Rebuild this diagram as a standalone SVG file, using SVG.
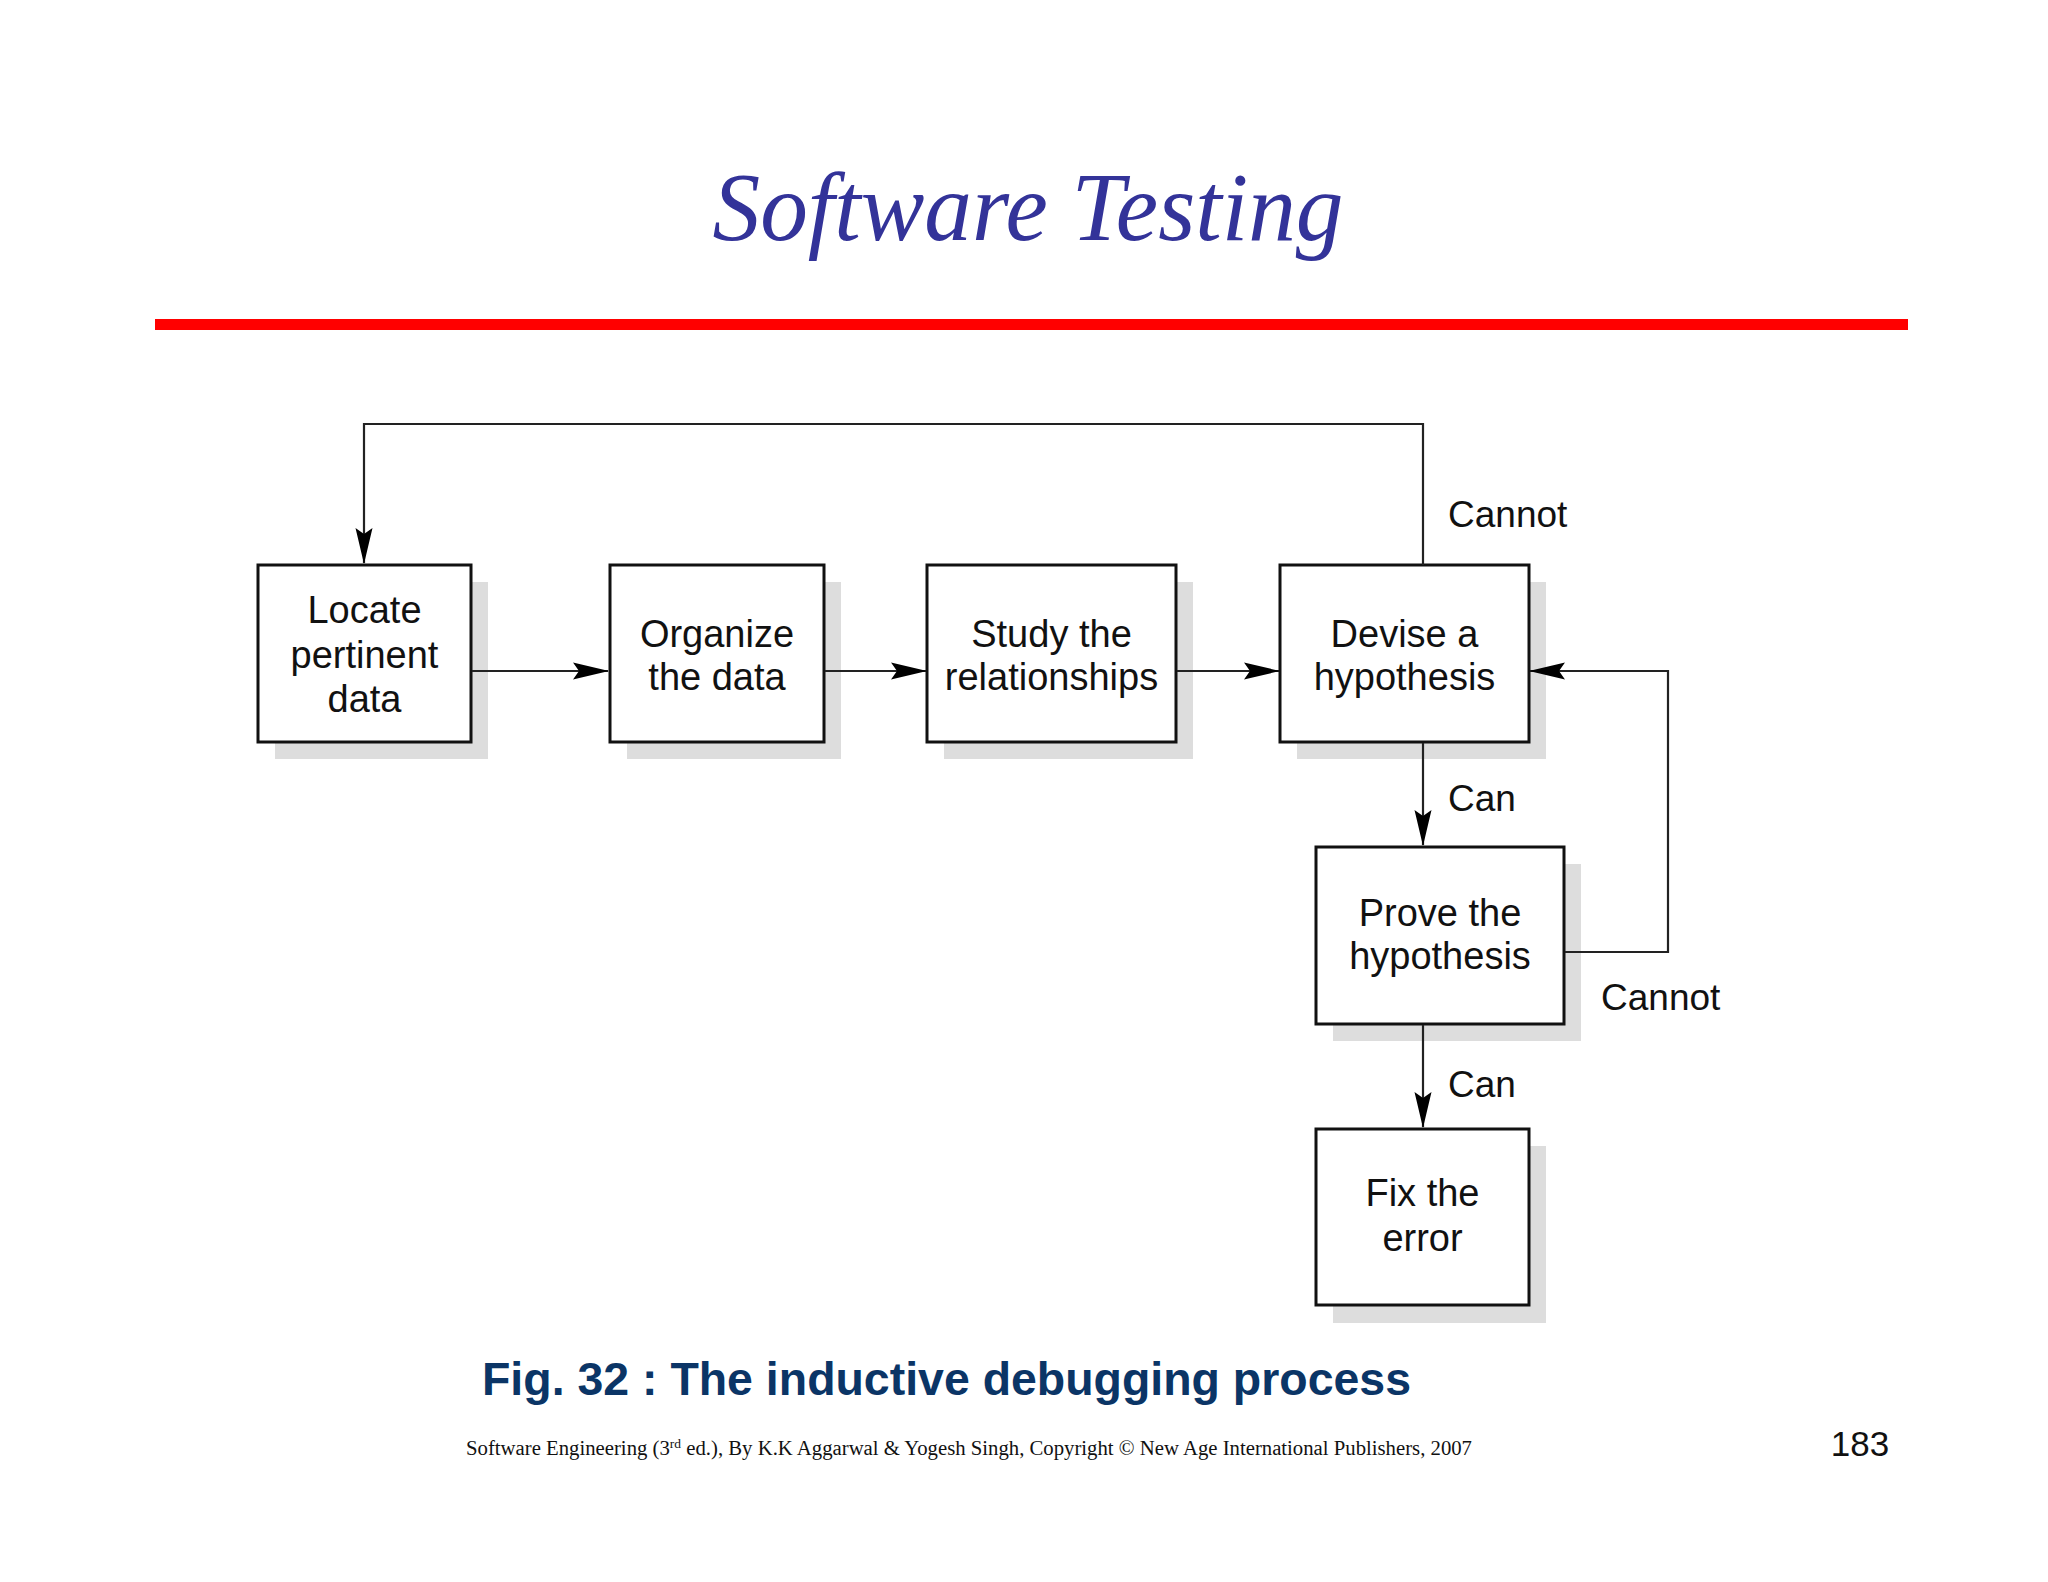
<svg xmlns="http://www.w3.org/2000/svg" width="2048" height="1582" viewBox="0 0 2048 1582">
<style>
.box{fill:#fff;stroke:#111;stroke-width:3}
.shadow{fill:#dddddd}
.lbl{font-family:"Liberation Sans",Arial,sans-serif;font-size:38px;fill:#111;text-anchor:middle}
.edge{font-family:"Liberation Sans",Arial,sans-serif;font-size:37px;fill:#111}
.conn{fill:none;stroke:#222;stroke-width:2.2}
</style>
<defs>
<marker id="arr" viewBox="-37 -10 39 20" refX="0" refY="0" markerWidth="39" markerHeight="20" markerUnits="userSpaceOnUse" orient="auto">
<path d="M1,0 L-35,-8.5 L-29,0 L-35,8.5 Z" fill="#000"/>
</marker>
</defs>
<rect width="2048" height="1582" fill="#fff"/>
<text x="1028" y="240" text-anchor="middle" font-family="'Liberation Serif',serif" font-style="italic" font-size="98" fill="#333399" textLength="631" lengthAdjust="spacingAndGlyphs">Software Testing</text>
<rect x="155" y="319" width="1753" height="11" fill="#ff0000"/>

<g id="locate">
<rect class="shadow" x="275" y="582" width="213" height="177"/>
<rect class="box" x="258" y="565" width="213" height="177"/>
<text class="lbl" x="364.5" y="623">Locate</text>
<text class="lbl" x="364.5" y="668">pertinent</text>
<text class="lbl" x="364.5" y="712">data</text>
</g>
<g id="organize">
<rect class="shadow" x="627" y="582" width="214" height="177"/>
<rect class="box" x="610" y="565" width="214" height="177"/>
<text class="lbl" x="717" y="647">Organize</text>
<text class="lbl" x="717" y="690">the data</text>
</g>
<g id="study">
<rect class="shadow" x="944" y="582" width="249" height="177"/>
<rect class="box" x="927" y="565" width="249" height="177"/>
<text class="lbl" x="1051.5" y="647">Study the</text>
<text class="lbl" x="1051.5" y="690">relationships</text>
</g>
<g id="devise">
<rect class="shadow" x="1297" y="582" width="249" height="177"/>
<rect class="box" x="1280" y="565" width="249" height="177"/>
<text class="lbl" x="1404.5" y="647">Devise a</text>
<text class="lbl" x="1404.5" y="690">hypothesis</text>
</g>
<g id="prove">
<rect class="shadow" x="1333" y="864" width="248" height="177"/>
<rect class="box" x="1316" y="847" width="248" height="177"/>
<text class="lbl" x="1440" y="926">Prove the</text>
<text class="lbl" x="1440" y="969">hypothesis</text>
</g>
<g id="fix">
<rect class="shadow" x="1333" y="1146" width="213" height="177"/>
<rect class="box" x="1316" y="1129" width="213" height="176"/>
<text class="lbl" x="1422.5" y="1206">Fix the</text>
<text class="lbl" x="1422.5" y="1251">error</text>
</g>

<g id="connectors">
<path class="conn" d="M1423,565 V424 H364 V563" marker-end="url(#arr)"/>
<path class="conn" d="M472,671 H608" marker-end="url(#arr)"/>
<path class="conn" d="M825,671 H926" marker-end="url(#arr)"/>
<path class="conn" d="M1177,671 H1279" marker-end="url(#arr)"/>
<path class="conn" d="M1423,743 V845" marker-end="url(#arr)"/>
<path class="conn" d="M1423,1025 V1127" marker-end="url(#arr)"/>
<path class="conn" d="M1565,952 H1668 V671 H1530" marker-end="url(#arr)"/>
<text class="edge" x="1448" y="527">Cannot</text>
<text class="edge" x="1448" y="811">Can</text>
<text class="edge" x="1601" y="1010">Cannot</text>
<text class="edge" x="1448" y="1097">Can</text>
</g>

<text x="482" y="1395" font-family="'Liberation Sans',Arial,sans-serif" font-weight="bold" font-size="47" fill="#0b3566" textLength="929" lengthAdjust="spacingAndGlyphs">Fig. 32 : The inductive debugging process</text>
<text x="466" y="1455" font-family="'Liberation Serif','Times New Roman',serif" font-size="20" fill="#111" textLength="1006" lengthAdjust="spacingAndGlyphs">Software Engineering (3<tspan font-size="13" dy="-7">rd</tspan><tspan dy="7"> ed.), By K.K Aggarwal &amp; Yogesh Singh, Copyright © New Age International Publishers, 2007</tspan></text>
<text x="1860" y="1456" text-anchor="middle" font-family="'Liberation Sans',Arial,sans-serif" font-size="35" fill="#111">183</text>
</svg>
